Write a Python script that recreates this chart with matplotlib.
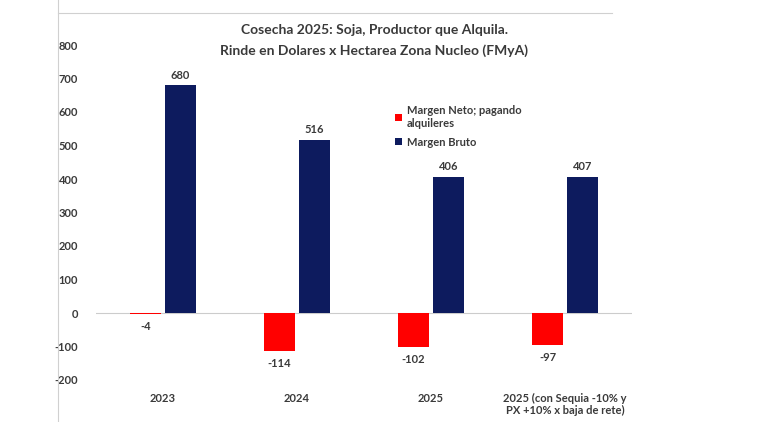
import matplotlib
matplotlib.use("Agg")
import matplotlib.pyplot as plt
import numpy as np
from matplotlib.lines import Line2D

plt.rcParams['font.family'] = ['Lato', 'DejaVu Sans']
plt.rcParams['font.weight'] = 'bold'

## Data
categorias = ["2023", "2024", "2025", "2025 (con Sequia -10% y\nPX +10% x baja de rete)"]
margen_neto = [-4, -114, -102, -97]
margen_bruto = [680, 516, 406, 407]
ticks_y = [-200, -100, 0, 100, 200, 300, 400, 500, 600, 700, 800]

rojo = "#ff0000"
azul = "#0d1b5e"
gris_txt = "#3a3a3a"

fig = plt.figure(figsize=(7.8, 4.22), dpi=100)
ax = fig.add_axes([96/780, 1-380/422, (632-96)/780, (380-45)/422])

x = np.arange(len(categorias))
w = 0.23
off = 0.13
b1 = ax.bar(x - off, margen_neto, w, color=rojo, label="Margen Neto; pagando\nalquileres")
b2 = ax.bar(x + off, margen_bruto, w, color=azul, label="Margen Bruto")

for xi, v in zip(x - off, margen_neto):
    ax.text(xi, v - 20, str(v), ha="center", va="top", fontsize=8, color=gris_txt)
for xi, v in zip(x + off, margen_bruto):
    ax.text(xi, v + 14, str(v), ha="center", va="bottom", fontsize=8, color=gris_txt)

ax.set_xlim(-0.5, len(categorias) - 0.5)
ax.set_ylim(-200, 800)
ax.set_yticks(ticks_y)
ax.set_yticklabels([str(t) for t in ticks_y], fontsize=8, color=gris_txt)
ax.set_xticks(x)
ax.set_xticklabels(categorias, fontsize=8, color=gris_txt, va="top")
ax.tick_params(axis="both", length=0)
ax.tick_params(axis="y", pad=13)
ax.tick_params(axis="x", pad=9)
for s in ax.spines.values():
    s.set_visible(False)
ax.axhline(0, color="#cccccc", lw=0.8, zorder=0)

ax.legend(loc="upper left", bbox_to_anchor=(0.54, 0.85), frameon=False, fontsize=8,
          handlelength=0.6, handleheight=0.6, handletextpad=0.4, labelspacing=0.7,
          labelcolor=gris_txt)

fig.text(0.5 - 0.02, 1 - 30/422, "Cosecha 2025: Soja, Productor que Alquila.", ha="center", va="center",
         fontsize=10, fontweight="bold", color=gris_txt)
fig.text(0.5 - 0.02, 1 - 51/422, "Rinde en Dolares x Hectarea Zona Nucleo (FMyA)", ha="center", va="center",
         fontsize=10, fontweight="bold", color=gris_txt)

# marco de la captura
fig.add_artist(Line2D([58/780, 58/780], [0, 1], color="#d0d0d0", lw=0.8, transform=fig.transFigure))
fig.add_artist(Line2D([58/780, 612/780], [1-13/422, 1-13/422], color="#d0d0d0", lw=0.8, transform=fig.transFigure))

fig.savefig("out.png", dpi=100)
